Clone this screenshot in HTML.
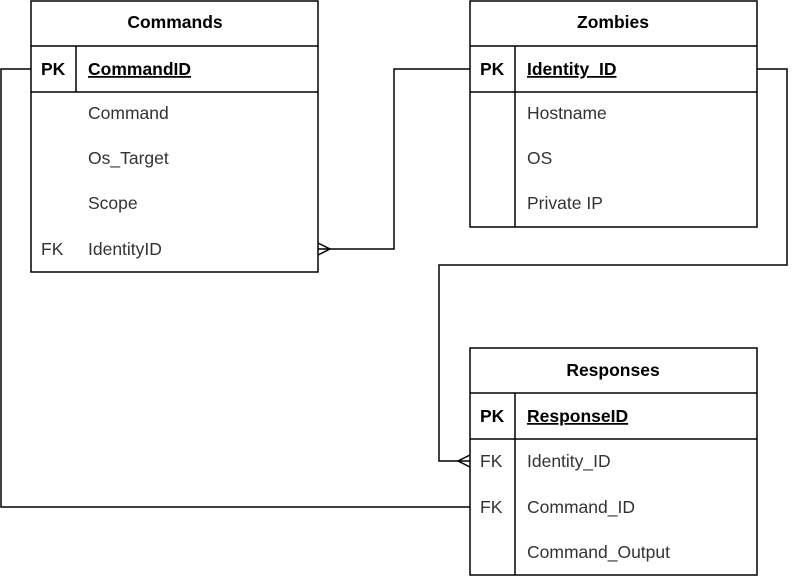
<!DOCTYPE html>
<html><head><meta charset="utf-8"><style>
html,body{margin:0;padding:0;background:#fff;}
svg{display:block;}
text{font-family:"Liberation Sans",Arial,sans-serif;font-size:17.5px;fill:#333;}
.b{font-weight:bold;fill:#000;}
.u{text-decoration:underline;}
</style></head><body>
<svg width="801" height="577" viewBox="0 0 801 577" xmlns="http://www.w3.org/2000/svg">
<g fill="none" stroke="#000" stroke-width="1.5">
<polyline points="31,69 1,69 1,507 470,507"/>
<polyline points="470,69 394,69 394,249 318,249"/>
<polyline points="318,243 330,249 318,255"/>
<polyline points="757,69 787,69 787,265 439,265 439,461 470,461"/>
<polyline points="470,455 458,461 470,467"/>
<rect x="31" y="1" width="287" height="271" fill="#fff"/>
<line x1="31" y1="46" x2="318" y2="46"/>
<line x1="31" y1="92" x2="318" y2="92"/>
<line x1="76" y1="46" x2="76" y2="92"/>
<rect x="470" y="1" width="287" height="226" fill="#fff"/>
<line x1="470" y1="46" x2="757" y2="46"/>
<line x1="470" y1="92" x2="757" y2="92"/>
<line x1="515" y1="46" x2="515" y2="227"/>
<rect x="470" y="348" width="287" height="227" fill="#fff"/>
<line x1="470" y1="393" x2="757" y2="393"/>
<line x1="470" y1="439" x2="757" y2="439"/>
<line x1="515" y1="393" x2="515" y2="575"/>
</g>
<g>
<text x="175" y="28" text-anchor="middle" class="b">Commands</text>
<text x="41" y="75" class="b">PK</text>
<text x="88" y="75" class="b u">CommandID</text>
<text x="88" y="119">Command</text>
<text x="88" y="164">Os_Target</text>
<text x="88" y="209">Scope</text>
<text x="41" y="255">FK</text>
<text x="88" y="255">IdentityID</text>

<text x="613" y="28" text-anchor="middle" class="b">Zombies</text>
<text x="480" y="75" class="b">PK</text>
<text x="527" y="75" class="b u">Identity_ID</text>
<text x="527" y="119">Hostname</text>
<text x="527" y="164">OS</text>
<text x="527" y="209">Private IP</text>

<text x="613" y="376" text-anchor="middle" class="b">Responses</text>
<text x="480" y="422" class="b">PK</text>
<text x="527" y="422" class="b u">ResponseID</text>
<text x="480" y="467">FK</text>
<text x="527" y="467">Identity_ID</text>
<text x="480" y="513">FK</text>
<text x="527" y="513">Command_ID</text>
<text x="527" y="558">Command_Output</text>
</g>
</svg>
</body></html>
